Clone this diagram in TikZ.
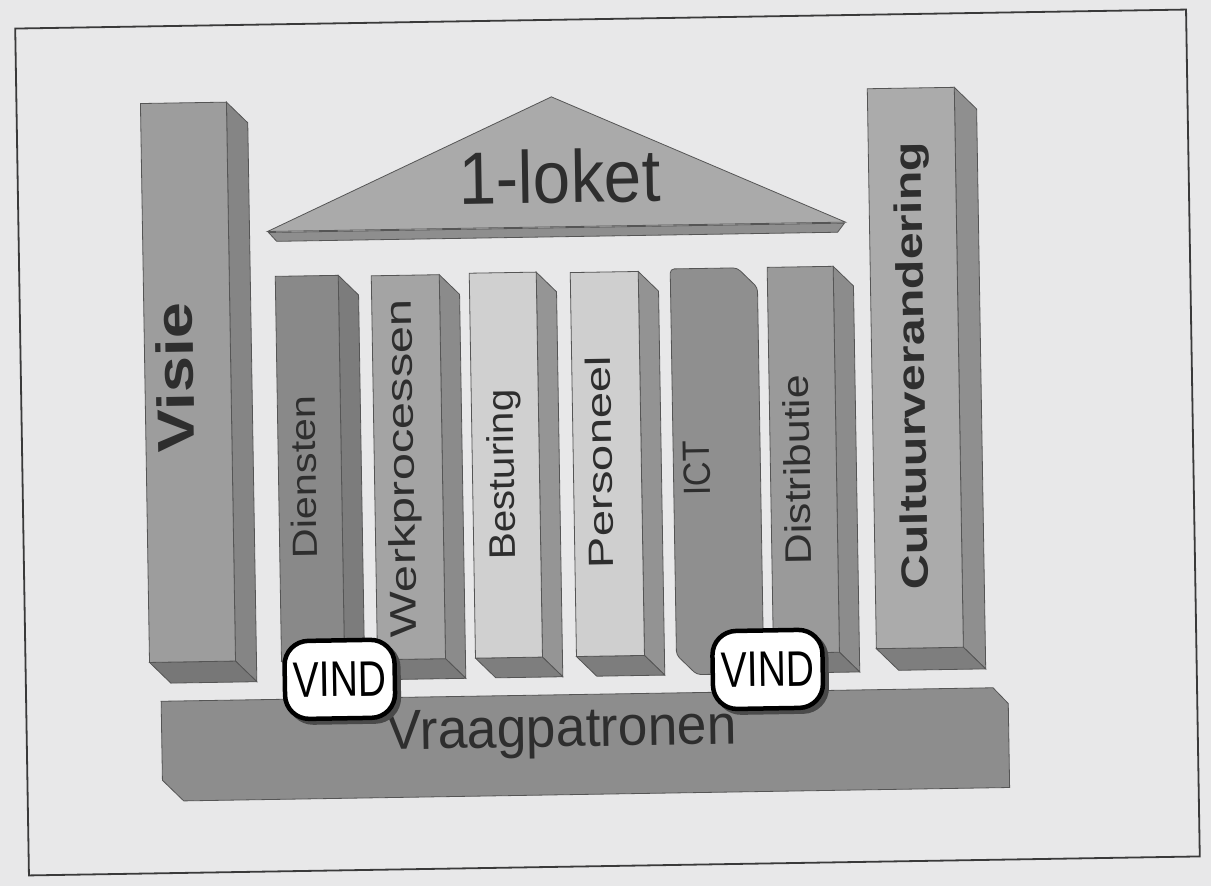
\documentclass[tikz,border=0pt]{standalone}
\usepackage{fontspec}
\setmainfont{Liberation Sans}
\usepackage{graphicx}
\definecolor{paper}{HTML}{E8E8E9}
\definecolor{framec}{HTML}{3A3A3A}
\definecolor{edgec}{HTML}{555555}
\definecolor{textc}{HTML}{2E2E2E}
\definecolor{visF}{HTML}{9D9D9D}\definecolor{visS}{HTML}{858585}\definecolor{visB}{HTML}{777777}
\definecolor{dieF}{HTML}{898989}\definecolor{dieS}{HTML}{7C7C7C}\definecolor{dieB}{HTML}{707070}
\definecolor{werF}{HTML}{A4A4A4}\definecolor{werS}{HTML}{8B8B8B}\definecolor{werB}{HTML}{7A7A7A}
\definecolor{besF}{HTML}{D0D0D0}\definecolor{besS}{HTML}{959595}\definecolor{besB}{HTML}{7E7E7E}
\definecolor{perF}{HTML}{CFCFCF}\definecolor{perS}{HTML}{939393}\definecolor{perB}{HTML}{7D7D7D}
\definecolor{ictF}{HTML}{8F8F8F}
\definecolor{disF}{HTML}{9A9A9A}\definecolor{disS}{HTML}{8C8C8C}\definecolor{disB}{HTML}{7B7B7B}
\definecolor{culF}{HTML}{ABABAB}\definecolor{culS}{HTML}{8F8F8F}\definecolor{culB}{HTML}{7E7E7E}
\definecolor{roofF}{HTML}{AAAAAA}\definecolor{roofS}{HTML}{8E8E8E}
\definecolor{slabF}{HTML}{8D8D8D}
\definecolor{shadowc}{HTML}{4A4A4A}
% #1 x1, #2 x2, #3 depth, #4 top, #5 bottom, #6 front, #7 side, #8 bottom face
\newcommand\mypillar[8]{%
  \filldraw[edge, fill=#7] (#2,#4) -- ({#2+#3},{#4+#3}) -- ({#2+#3},{#5+#3}) -- (#2,#5) -- cycle;
  \filldraw[edge, fill=#8] (#1,#5) -- (#2,#5) -- ({#2+#3},{#5+#3}) -- ({#1+#3},{#5+#3}) -- cycle;
  \filldraw[edge, fill=#6] (#1,#4) rectangle (#2,#5);
}
\newcommand\fs[1]{\fontsize{#1}{#1}\selectfont}
\begin{document}
\begin{tikzpicture}[x=1pt,y=-1pt,
  edge/.style={draw=edgec, line width=0.8pt},
  vlabel/.style={rotate=90, anchor=mid, inner sep=0pt, text=textc},
  hlabel/.style={anchor=base, inner sep=0pt, text=textc},
  badge/.style={draw=black, line width=4.5pt, fill=white, rounded corners=24pt,
    minimum width=110pt, minimum height=78pt, inner sep=0pt, text=black, font=\fs{50}},
  badgeshadow/.style={fill=shadowc, rounded corners=26pt, minimum width=114pt, minimum height=82pt, inner sep=0pt}]
\useasboundingbox (0,0) rectangle (1211,886);
\fill[paper] (0,0) rectangle (1211,886);
\begin{scope}[rotate around={0.93:(607,443)}, transform shape]
  % frame
  \draw[framec, line width=1.8pt] (22,19) rectangle (1193,866);
  % base slab
  \filldraw[edge, fill=slabF] (157,694) -- (989,694) -- (1004,710) -- (1004,794) -- (178,794) -- (157,773) -- cycle;
  % pillars
  \mypillar{146}{232}{21}{96}{655}{visF}{visS}{visB}
  \mypillar{278}{341}{20}{271}{656}{dieF}{dieS}{dieB}
  \mypillar{374}{442}{20}{272}{656}{werF}{werS}{werB}
  \mypillar{472}{539}{20}{271}{656}{besF}{besS}{besB}
  \mypillar{573}{641}{20}{272}{656}{perF}{perS}{perB}
  \filldraw[edge, fill=ictF, rounded corners=4pt] (673,270) -- (740,270) -- (760,290) -- (760,676) -- (693,676) -- (673,656) -- cycle;
  \mypillar{770}{836}{20}{270}{656}{disF}{disS}{disB}
  \mypillar{873}{960}{22}{93}{653}{culF}{culS}{culB}
  % roof
  \filldraw[edge, fill=roofS] (272,227) -- (848,227) -- (841,236) -- (280,236) -- cycle;
  \filldraw[edge, fill=roofF] (271,226) -- (557,96) -- (849,226) -- cycle;
  % labels
  \node[vlabel, font=\bfseries\fs{52}] (visie) at (192,371) {\scalebox{1.25}[1]{Visie}};
  \node[vlabel, font=\fs{35}] (diensten) at (313,472) {\scalebox{1.18}[1]{Diensten}};
  \node[vlabel, font=\fs{37}] (werk) at (411,465) {\scalebox{1.32}[1]{Werkprocessen}};
  \node[vlabel, font=\fs{37}] (bestuur) at (511,473) {\scalebox{1.09}[1]{Besturing}};
  \node[vlabel, font=\fs{35}] (personeel) at (609,462) {\scalebox{1.35}[1]{Personeel}};
  \node[vlabel, font=\fs{38}] (ict) at (707,470) {\scalebox{0.9}[1]{ICT}};
  \node[vlabel, font=\fs{37}] (distributie) at (807,473) {\scalebox{1.155}[1]{Distributie}};
  \node[vlabel, font=\bfseries\fs{38}] (cultuur) at (923,371) {\scalebox{1.27}[1]{Cultuurverandering}};
  \node[hlabel, font=\fs{74}] (loket) at (564,202) {\scalebox{0.91}[1]{1-loket}};
  \node[hlabel, font=\fs{56}] (vraag) at (557,746) {\scalebox{0.95}[1]{Vraagpatronen}};
  % VIND badges
  \node[badgeshadow] (vindshadowA) at (340,679) {};
  \node[badge] (vindA) at (336,675) {\scalebox{0.78}[1]{VIND}};
  \node[badgeshadow] (vindshadowB) at (768,676) {};
  \node[badge] (vindB) at (764,672) {\scalebox{0.78}[1]{VIND}};
\end{scope}
\end{tikzpicture}
\end{document}
